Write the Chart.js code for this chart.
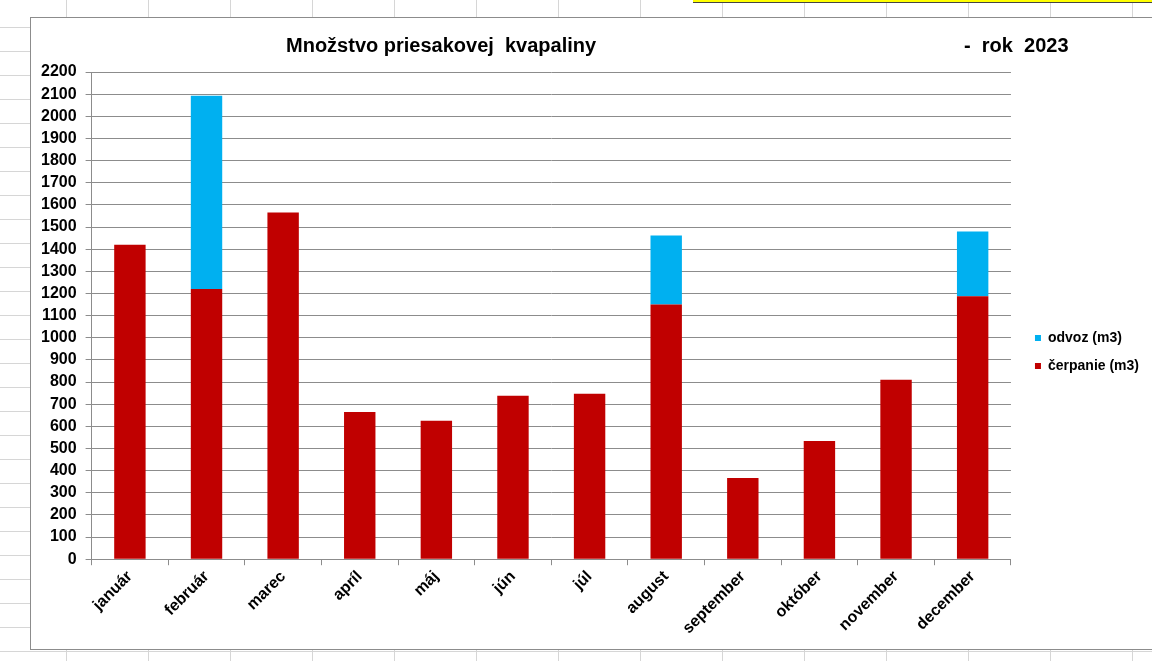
<!DOCTYPE html>
<html>
<head>
<meta charset="utf-8">
<script src="https://cdn.jsdelivr.net/npm/chart.js@4"></script>
<style>
  html, body { margin: 0; padding: 0; }
  body {
    width: 1152px; height: 661px; overflow: hidden; position: relative;
    background-color: #fff;
    background-image:
      repeating-linear-gradient(to bottom, transparent 0 23px, #d6d6d6 23px 24px),
      repeating-linear-gradient(to right, transparent 0 81px, #d6d6d6 81px 82px);
    background-position: 0 4px, -15px 0;
  }
  .yellow { position: absolute; left: 693px; top: 0; width: 459px; height: 2px; background: #ffff00; border-bottom: 1px solid #444; }
  .box {
    position: absolute; left: 30px; top: 17px; width: 1130px; height: 633px;
    background: #fff; border: 1px solid #8c8c8c; box-sizing: border-box;
  }
</style>
</head>
<body>
<div class="yellow"></div>
<div class="box"><canvas id="chart"></canvas></div>
<script>
// Données
const mesiace = ['január', 'február', 'marec', 'apríl', 'máj', 'jún', 'júl', 'august', 'september', 'október', 'november', 'december'];
const cerpanie = [1420, 1220, 1565, 665, 625, 738, 747, 1150, 367, 534, 810, 1187];
const odvoz = [0, 873, 0, 0, 0, 0, 0, 312, 0, 0, 0, 293];
const yMin = 0, yMax = 2200, yStep = 100;

const nazov = 'Množstvo priesakovej  kvapaliny';
const rok = '-  rok  2023';
const pismo = '"Liberation Sans", Arial, sans-serif';

// Titulok kreslený ručne (dve časti na rôznych miestach)
const titulok = {
    id: 'titulok',
    afterLayout(chart) {
        // posun legendy trochu doprava a hore
        const lg = chart.legend;
        lg.left += 10; lg.right += 10;
        lg.top -= 4; lg.bottom -= 4;
    },
    afterDraw(chart) {
        const ctx = chart.ctx;
        ctx.save();
        ctx.fillStyle = '#000';
        ctx.font = 'bold 20px ' + pismo;
        ctx.textBaseline = 'middle';
        ctx.fillText(nazov, 255, 28);
        ctx.fillText(rok, 933, 28);
        ctx.restore();
    }
};

const chart = new Chart(document.getElementById('chart'), {
    type: 'bar',
    data: {
        labels: mesiace,
        datasets: [
            { label: 'čerpanie (m3)', data: cerpanie, backgroundColor: '#C00000' },
            { label: 'odvoz (m3)', data: odvoz, backgroundColor: '#00B0F0' }
        ]
    },
    options: {
        responsive: true,
        maintainAspectRatio: false,
        animation: false,
        categoryPercentage: 1,
        barPercentage: 0.41,
        layout: { padding: { left: 1, top: 54, right: 20, bottom: 9 } },
        plugins: {
            legend: {
                position: 'right',
                reverse: true,
                labels: {
                    boxWidth: 6, boxHeight: 6, padding: 14, color: '#000',
                    font: { family: pismo, size: 14, weight: 'bold' }
                }
            },
            tooltip: { enabled: false }
        },
        scales: {
            x: {
                stacked: true,
                grid: { drawOnChartArea: false, drawTicks: true, tickLength: 6, color: '#8c8c8c' },
                border: { color: '#8c8c8c' },
                ticks: {
                    color: '#000', minRotation: 45, maxRotation: 45, padding: 2,
                    font: { family: pismo, size: 16, weight: 'bold' }
                }
            },
            y: {
                stacked: true,
                min: yMin, max: yMax,
                grid: { color: '#8c8c8c', tickLength: 6 },
                border: { color: '#8c8c8c' },
                ticks: {
                    stepSize: yStep, color: '#000', padding: 9, autoSkip: false,
                    font: { family: pismo, size: 16, weight: 'bold' },
                    callback: function(value) {
                        return String(value);
                    }
                }
            }
        }
    },
    plugins: [titulok]
});
</script>
</body>
</html>
